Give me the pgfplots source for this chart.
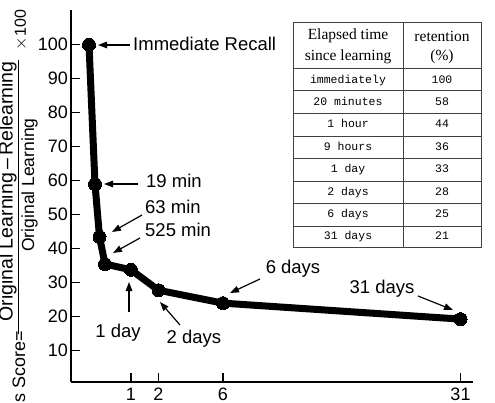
\documentclass[border=0pt]{standalone}
\usepackage{pgfplots}
\pgfplotsset{compat=1.18}
\usetikzlibrary{arrows.meta}
\usepackage{fontspec}
\setmainfont{Liberation Sans}
\newfontfamily\headfont{Liberation Serif}
\newfontfamily\bodyfont{Liberation Mono}
\newcommand\fs[1]{\fontsize{#1}{#1}\selectfont}
\begin{document}
\begin{tikzpicture}
\begin{axis}[
  at={(71pt,-381.7pt)}, anchor=south west,
  scale only axis, width=402pt, height=371.7pt,
  xmin=0, xmax=402, ymin=0.9, ymax=110.2,
  axis x line*=bottom, axis y line*=left,
  axis line style={line width=1.6pt, -},
  tick align=inside, major tick length=9pt,
  tick style={line width=1.3pt, black},
  ytick={10,20,...,100},
  xtick={60,87.5,152,389.5}, xticklabels={1,2,6,31},
  /pgf/number format/assume math mode=true,
  tick label style={font=\fs{18}},
  yticklabel style={anchor=east, inner sep=0pt, xshift=-3pt},
  xticklabel style={anchor=north, inner sep=0pt, yshift=-6.5pt},
  clip=false,
]
\addplot[black, line width=7pt, line join=round, mark=*, mark size=6.5pt,
  mark options={solid, fill=black, line width=0pt}]
  coordinates {(18,100) (24,59) (28.5,43.5) (34,35.5) (60,33.8) (87.5,27.8) (152,24) (389.5,19.3)};
\end{axis}
\begin{scope}[x=1pt,y=1pt,
  ann/.style={font=\fs{18.5}, inner sep=0pt},
  arr/.style={line width=1.2pt, -{Triangle[length=9pt,width=6.5pt]}}]
% annotations
\draw[arr] (130,-45) -- (98,-45);
\node[ann, anchor=base west] at (133,-51) {Immediate Recall};
\draw[arr] (138,-184) -- (104,-184);
\node[ann, anchor=base west] at (146,-188) {19 min};
\draw[arr] (142,-215) -- (112,-232);
\node[ann, anchor=base west] at (145,-214) {63 min};
\draw[arr] (140,-238) -- (113,-253);
\node[ann, anchor=base west] at (145,-237) {525 min};
\draw[arr] (129,-312) -- (129,-282);
\node[ann, anchor=base] at (118,-337) {1 day};
\draw[arr] (180,-325) -- (160,-302);
\node[ann, anchor=base] at (194,-343) {2 days};
\draw[arr] (260,-279) -- (230,-293);
\node[ann, anchor=base] at (293,-273) {6 days};
\draw[arr] (418,-296) -- (453,-310);
\node[ann, anchor=base] at (382,-293) {31 days};
% y label
\node[rotate=90, inner sep=0pt, font=\fs{19.5}] at (7.5,-191.5) {Original Learning\,--\,Relearning};
\node[rotate=90, inner sep=0pt, font=\fs{17.5}] at (29.5,-185) {Original Learning};
\draw[line width=1.2pt] (18.5,-60) -- (18.5,-334);
\node[rotate=90, inner sep=0pt, anchor=base east, font=\fs{18}] at (25,-331) {Savings Score=};
\node[rotate=90, inner sep=0pt, font=\fs{16}] at (21,-30) {$\times$100};
% table
\fill[white] (293,-22) rectangle (481,-247);
\begin{scope}[line width=0.9pt, draw=black!75]
\draw (293,-22) rectangle (481,-247);
\draw (403,-22) -- (403,-247);
\foreach \yy in {68,90,113,136,158,181,203,226} \draw (293,-\yy) -- (481,-\yy);
\end{scope}
\node[font=\headfont\fs{15.5}, inner sep=0pt] at (348,-36) {Elapsed time};
\node[font=\headfont\fs{15.5}, inner sep=0pt] at (348,-57) {since learning};
\node[font=\headfont\fs{15.5}, inner sep=0pt] at (442,-36) {retention};
\node[font=\headfont\fs{15.5}, inner sep=0pt] at (442,-57) {(\%)};
\foreach \lab/\val [count=\i] in {immediately/100, 20 minutes/58, 1 hour/44, 9 hours/36, 1 day/33, 2 days/28, 6 days/25, 31 days/21} {
  \pgfmathsetmacro\yc{68+22.4*(\i-0.5)}
  \node[font=\bodyfont\fs{11.5}, anchor=base] at (348,-\yc-4) {\lab};
  \node[font=\bodyfont\fs{11.5}, anchor=base] at (442,-\yc-4) {\val};
}
\pgfresetboundingbox
\path[use as bounding box] (0,0) rectangle (495,-403);
\end{scope}
\end{tikzpicture}
\end{document}
